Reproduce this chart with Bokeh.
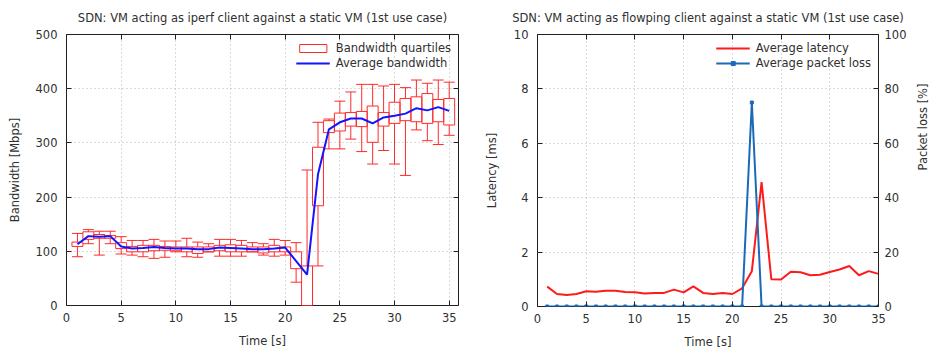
import math
import numpy as np
from bokeh.plotting import figure
from bokeh.models import (Range1d, LinearAxis, Legend, LegendItem, FixedTicker,
                          ColumnDataSource, CustomJSTickFormatter)
from bokeh.layouts import row
from bokeh.embed import file_html
from bokeh.resources import INLINE

# ---------------- data ----------------
time = list(range(1, 36))

bw_min = [90, 114, 93, 114, 95, 93, 90, 87, 89, 99, 90, 89, 99, 91, 91, 91, 99, 93, 91, 93,
          43, 0, 73, 289, 289, 307, 284, 261, 286, 261, 240, 324, 304, 297, 314]
bw_q1 = [109, 122, 124, 124, 105, 99, 99, 101, 102, 101, 99, 96, 99, 101, 99, 99, 99, 97, 99, 99,
         68, 0, 184, 319, 322, 331, 330, 301, 331, 336, 341, 339, 336, 339, 333]
bw_q3 = [117, 136, 131, 129, 116, 109, 111, 111, 109, 108, 108, 108, 108, 111, 112, 111, 108, 108, 111, 108,
         99, 73, 292, 341, 355, 356, 358, 368, 356, 375, 382, 385, 391, 380, 382]
bw_max = [133, 140, 137, 137, 127, 120, 120, 122, 119, 119, 124, 117, 114, 122, 122, 120, 116, 114, 122, 120,
          116, 250, 338, 344, 377, 394, 408, 408, 405, 408, 402, 416, 410, 416, 412]
bw_mean = [113, 128, 127, 128, 109, 105, 106, 108, 106, 105, 105, 104, 104, 107, 106, 105, 104, 104, 105, 107,
           82, 57, 242, 325, 338, 345, 345, 336, 347, 350, 354, 364, 360, 366, 359]

latency = [0.73, 0.46, 0.42, 0.46, 0.56, 0.54, 0.58, 0.58, 0.53, 0.52, 0.48, 0.50, 0.50, 0.62, 0.52,
           0.74, 0.50, 0.46, 0.50, 0.46, 0.67, 1.30, 4.57, 1.00, 0.99, 1.28, 1.26, 1.15, 1.17, 1.27,
           1.36, 1.49, 1.15, 1.30, 1.20]
loss = [0, 0, 0, 0, 0, 0, 0, 0, 0, 0, 0, 0, 0, 0, 0, 0, 0, 0, 0, 0, 0, 75, 0, 0, 0, 0, 0, 0, 0, 0,
        0, 0, 0, 0, 0]

x_ticks = [0, 5, 10, 15, 20, 25, 30, 35]
bw_ticks = [0, 100, 200, 300, 400, 500]
lat_ticks = [0, 2, 4, 6, 8, 10]
loss_ticks = [0, 20, 40, 60, 80, 100]

FONT = "DejaVu Sans"
FS = "11.5px"
TXT = "#303030"
BOXRED = "#ff2a2a"
GRID = "#b4b4b4"

blank = CustomJSTickFormatter(code="return ''")


def style_axis(ax, ticks, label=None, standoff=8, label_standoff=9):
    ax.ticker = FixedTicker(ticks=ticks)
    ax.major_tick_in = 5
    ax.major_tick_out = 0
    ax.minor_tick_line_color = None
    ax.axis_line_color = None
    ax.major_tick_line_color = "#202020"
    ax.major_label_text_font = FONT
    ax.major_label_text_font_size = FS
    ax.major_label_text_color = TXT
    ax.major_label_standoff = standoff
    if label:
        ax.axis_label = label
        ax.axis_label_text_font = FONT
        ax.axis_label_text_font_size = FS
        ax.axis_label_text_font_style = "normal"
        ax.axis_label_text_color = TXT
        ax.axis_label_standoff = label_standoff


def mirror(p, side, ticks, y_range_name=None):
    kw = {}
    if y_range_name:
        kw["y_range_name"] = y_range_name
    ax = LinearAxis(**kw)
    ax.ticker = FixedTicker(ticks=ticks)
    ax.formatter = blank
    ax.major_tick_in = 5
    ax.major_tick_out = 0
    ax.minor_tick_line_color = None
    ax.axis_line_color = None
    ax.major_tick_line_color = "#202020"
    ax.major_label_standoff = 0
    ax.major_label_text_font_size = "1px"
    p.add_layout(ax, side)
    return ax


def base_fig(title, fw, fh, x_end, y_end, mbl, mbr, mbt):
    p = figure(frame_width=fw, frame_height=fh, output_backend="svg", toolbar_location=None,
               x_range=Range1d(0, x_end), y_range=Range1d(0, y_end),
               min_border_left=mbl, min_border_right=mbr, min_border_top=mbt, min_border_bottom=8)
    p.title.text = title
    p.title.align = "center"
    p.title.vertical_align = "top"
    p.title.text_font = FONT
    p.title.text_font_size = "11.5px"
    p.title.text_font_style = "normal"
    p.title.text_color = TXT
    p.title.standoff = 16
    p.outline_line_color = "#202020"
    p.outline_line_width = 1
    p.outline_line_alpha = 1
    p.background_fill_color = "white"
    p.border_fill_color = "white"
    for g in (p.xgrid[0], p.ygrid[0]):
        g.grid_line_color = GRID
        g.grid_line_dash = "1 3"
        g.grid_line_width = 1
    p.xgrid.ticker = FixedTicker(ticks=x_ticks)
    return p


# ---------------- left chart ----------------
t = np.array(time, dtype=float)
src = ColumnDataSource(dict(
    t=t, left=t - 0.5, right=t + 0.5,
    mn=bw_min, q1=bw_q1, q3=bw_q3, mx=bw_max, mean=bw_mean))

p1 = base_fig("SDN: VM acting as iperf client against a static VM (1st use case)",
              392, 271, 35.85, 500, 66, 20, 33)
p1.ygrid.ticker = FixedTicker(ticks=bw_ticks)
style_axis(p1.xaxis[0], x_ticks, "Time [s]", standoff=7, label_standoff=9)
style_axis(p1.yaxis[0], bw_ticks, "Bandwidth [Mbps]", standoff=9, label_standoff=11)
mirror(p1, "right", bw_ticks)
mirror(p1, "above", x_ticks)

stem_hi = p1.segment(x0="t", y0="q3", x1="t", y1="mx", source=src, line_color=BOXRED, line_width=1)
stem_lo = p1.segment(x0="t", y0="q1", x1="t", y1="mn", source=src, line_color=BOXRED, line_width=1)
cap_hi = p1.segment(x0="left", y0="mx", x1="right", y1="mx", source=src, line_color=BOXRED, line_width=1)
cap_lo = p1.segment(x0="left", y0="mn", x1="right", y1="mn", source=src, line_color=BOXRED, line_width=1)
boxes = p1.quad(left="left", right="right", bottom="q1", top="q3", source=src,
                fill_color=None, line_color=BOXRED, line_width=1)
mean_line = p1.line(x="t", y="mean", source=src, line_color="#1414ff", line_width=2)

leg1 = Legend(items=[LegendItem(label="Bandwidth quartiles", renderers=[boxes]),
                     LegendItem(label="Average bandwidth", renderers=[mean_line])],
              location="top_right")
p1.add_layout(leg1)

# ---------------- right chart ----------------
p2 = base_fig("SDN: VM acting as flowping client against a static VM (1st use case)",
              341, 272, 35, 10, 59, 56, 34)
p2.extra_y_ranges = {"loss": Range1d(0, 100)}
p2.ygrid.ticker = FixedTicker(ticks=lat_ticks)
style_axis(p2.xaxis[0], x_ticks, "Time [s]", standoff=7, label_standoff=9)
style_axis(p2.yaxis[0], lat_ticks, "Latency [ms]", standoff=9, label_standoff=12)
ax_loss = LinearAxis(y_range_name="loss")
style_axis(ax_loss, loss_ticks, "Packet loss [%]", standoff=6, label_standoff=14)
ax_loss.axis_label_orientation = math.pi / 2
p2.add_layout(ax_loss, "right")
mirror(p2, "above", x_ticks)

src2 = ColumnDataSource(dict(t=t, lat=latency, loss=loss))
lat_line = p2.line(x="t", y="lat", source=src2, line_color="#ff1a1a", line_width=2)
loss_line = p2.line(x="t", y="loss", source=src2, y_range_name="loss",
                    line_color="#1a6ab8", line_width=2)
loss_pts = p2.scatter(x="t", y="loss", source=src2, y_range_name="loss", marker="square",
                      size=3, fill_color="#1a6ab8", line_color="#1a6ab8")

leg2 = Legend(items=[LegendItem(label="Average latency", renderers=[lat_line]),
                     LegendItem(label="Average packet loss", renderers=[loss_line, loss_pts])],
              location="top_right")
p2.add_layout(leg2)

for lg in (leg1, leg2):
    lg.background_fill_alpha = 0
    lg.border_line_color = None
    lg.label_text_font = FONT
    lg.label_text_font_size = FS
    lg.label_text_color = TXT
    lg.spacing = 1
    lg.padding = 3
    lg.margin = 7
    lg.glyph_width = 34
    lg.glyph_height = 10
    lg.label_height = 14
    lg.label_standoff = 6

layout = row(p1, p2, spacing=0)
open("out.html", "w").write(file_html(layout, INLINE))
